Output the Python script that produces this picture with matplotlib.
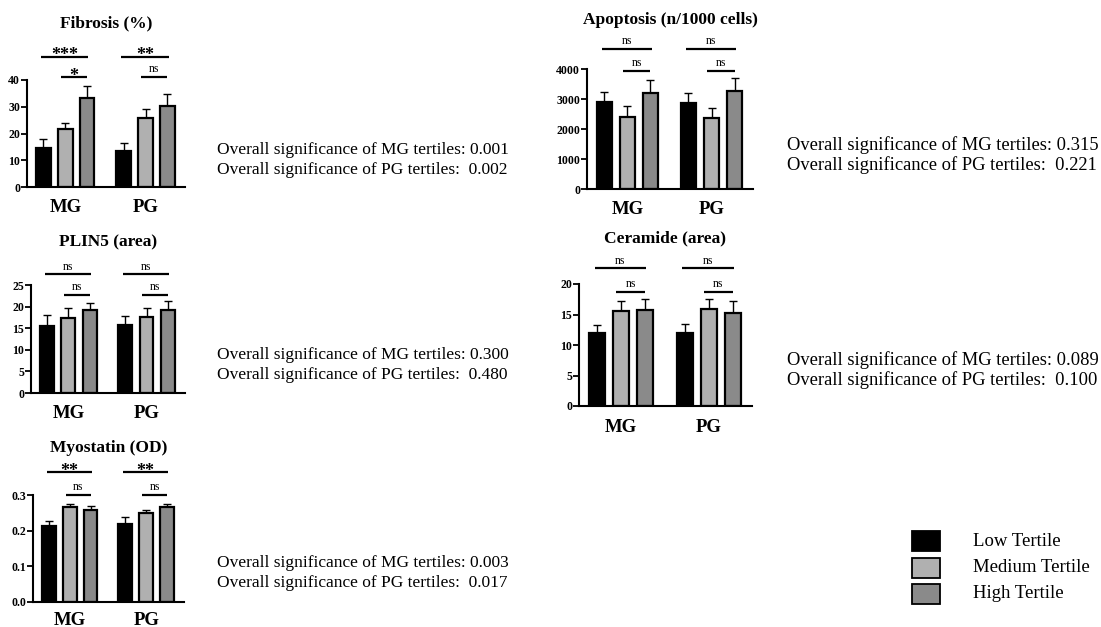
import numpy as np
import matplotlib
matplotlib.use("Agg")
import matplotlib.pyplot as plt
from matplotlib.patches import Rectangle

plt.rcParams['font.family'] = ['Liberation Serif', 'DejaVu Serif']

W, H = 1101, 627

groups = ["MG", "PG"]
tertiles = ["Low Tertile", "Medium Tertile", "High Tertile"]
cores = ["#000000", "#b0b0b0", "#8a8a8a"]

# valores (MG low, med, high, PG low, med, high) e barras de erro (so para cima)
fibrosis = [14.7, 21.5, 33.3, 13.6, 25.7, 30.1]
fibrosis_err = [3.1, 2.6, 4.3, 2.7, 3.5, 4.6]
apoptosis = [2900, 2405, 3200, 2880, 2355, 3265]
apoptosis_err = [320, 355, 430, 330, 345, 435]
plin5 = [15.6, 17.3, 19.3, 15.8, 17.5, 19.1]
plin5_err = [2.4, 2.3, 1.5, 2.0, 2.1, 2.1]
ceramide = [11.9, 15.6, 15.8, 11.95, 15.9, 15.3]
ceramide_err = [1.4, 1.6, 1.7, 1.45, 1.6, 1.85]
myostatin = [0.213, 0.265, 0.257, 0.219, 0.249, 0.266]
myostatin_err = [0.015, 0.009, 0.011, 0.018, 0.010, 0.010]

sig_mg = [["***", "*"], ["ns", "ns"], ["ns", "ns"], ["ns", "ns"], ["**", "ns"]]
sig_pg = [["**", "ns"], ["ns", "ns"], ["ns", "ns"], ["ns", "ns"], ["**", "ns"]]
p_mg = ["0.001", "0.315", "0.300", "0.089", "0.003"]
p_pg = ["0.002", "0.221", "0.480", "0.100", "0.017"]

titulos = ["Fibrosis (%)", "Apoptosis (n/1000 cells)", "PLIN5 (area)",
           "Ceramide (area)", "Myostatin (OD)"]
dados = [fibrosis, apoptosis, plin5, ceramide, myostatin]
erros = [fibrosis_err, apoptosis_err, plin5_err, ceramide_err, myostatin_err]
ylims = [40, 4000, 25, 20, 0.3]
yticks = [[0, 10, 20, 30, 40], [0, 1000, 2000, 3000, 4000], [0, 5, 10, 15, 20, 25],
          [0, 5, 10, 15, 20], [0.0, 0.1, 0.2, 0.3]]
ytickfmt = ["{:.0f}", "{:.0f}", "{:.0f}", "{:.0f}", "{:.1f}"]
# altura das chaves de significancia (dados)
chaves = [(48.6, 41.1), (4667, 3933), (27.5, 22.7), (22.6, 18.7), (0.364, 0.300)]

# caixas dos eixos em pixels: esquerda, direita, topo, base
caixas = [(27, 185, 80, 187), (587, 753, 69, 189), (31, 185, 285, 393),
          (579, 752, 284, 406), (33, 184, 495, 602)]
titulo_y = [23, 20, 242, 238, 448]
rotulo_pad = [9, 9, 9, 9, 7]
texto_pos = [(217, 150), (787, 145), (217, 355), (787, 360), (217, 563)]
texto_tam = [12.5, 13.3, 12.5, 13.3, 12.5]

pos = np.array([0, 1, 2, 3.65, 4.65, 5.65])
largura = 0.65

fig = plt.figure(figsize=(W / 100, H / 100), dpi=100)


def desenhar_painel(i):
    l, r, t, b = caixas[i]
    ax = fig.add_axes([l / W, 1 - b / H, (r - l) / W, (b - t) / H])
    ax.bar(pos, dados[i], width=largura, color=cores * 2, edgecolor="black",
           linewidth=1.6, zorder=2)
    ax.errorbar(pos, dados[i], yerr=[np.zeros(6), erros[i]], fmt="none",
                ecolor="black", elinewidth=1.0, capsize=3, capthick=1.0, zorder=1)
    ax.set_xlim(-0.75, 6.45)
    ax.set_ylim(0, ylims[i])
    ax.set_yticks(yticks[i])
    ax.set_yticklabels([ytickfmt[i].format(v) for v in yticks[i]],
                       fontsize=8.5, fontweight="bold")
    ax.set_xticks([1, 4.65])
    ax.set_xticklabels(groups, fontsize=13.5, fontweight="bold")
    ax.tick_params(axis="x", length=0, pad=rotulo_pad[i])
    ax.tick_params(axis="y", length=4, width=1.3, pad=1.0)
    for s in ["top", "right"]:
        ax.spines[s].set_visible(False)
    for s in ["left", "bottom"]:
        ax.spines[s].set_linewidth(1.5)

    y_longa, y_curta = chaves[i]
    for base, sig in [(0, sig_mg[i]), (3.65, sig_pg[i])]:
        for (x0, x1, y), txt in zip([(base - 0.1, base + 2.05, y_longa),
                                     (base + 0.8, base + 2.0, y_curta)], sig):
            ax.plot([x0, x1], [y, y], color="black", lw=1.6, clip_on=False,
                    solid_capstyle="butt")
            if txt == "ns":
                ax.annotate(txt, ((x0 + x1) / 2, y), xytext=(0, 3.3),
                            textcoords="offset points", ha="center", va="baseline",
                            fontsize=8.5, annotation_clip=False)
            else:
                ax.annotate(txt, ((x0 + x1) / 2, y), xytext=(0, -2.5),
                            textcoords="offset points", ha="center", va="baseline",
                            fontsize=13, fontweight="bold", annotation_clip=False)

    fig.text((l + r) / 2 / W, 1 - titulo_y[i] / H, titulos[i], ha="center",
             va="center", fontsize=12.5, fontweight="bold")
    tx, ty = texto_pos[i]
    fig.text(tx / W, 1 - ty / H, f"Overall significance of MG tertiles: {p_mg[i]}",
             ha="left", va="center", fontsize=texto_tam[i])
    fig.text(tx / W, 1 - (ty + 20) / H, f"Overall significance of PG tertiles:  {p_pg[i]}",
             ha="left", va="center", fontsize=texto_tam[i])


for i in range(5):
    desenhar_painel(i)

# legenda
for k, (nome, cor) in enumerate(zip(tertiles, cores)):
    y0 = 531 + k * 26.5
    fig.add_artist(Rectangle((912 / W, 1 - (y0 + 20) / H), 28 / W, 20 / H,
                             transform=fig.transFigure, facecolor=cor,
                             edgecolor="black", linewidth=1.3))
    fig.text(973 / W, 1 - (y0 + 10) / H, nome, ha="left", va="center", fontsize=13.5)

fig.savefig("out.png", dpi=100)
